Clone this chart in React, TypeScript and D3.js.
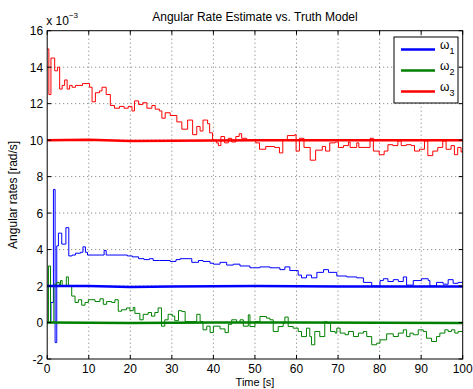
import { useMemo } from 'react';
import * as d3 from 'd3';

// time [s], rate [x 1e-3 rad/s]
type Pt = [number, number];

const xTicks = [0, 10, 20, 30, 40, 50, 60, 70, 80, 90, 100];
const yTicks = [-2, 0, 2, 4, 6, 8, 10, 12, 14, 16];
const seriesNames = ['ω1', 'ω2', 'ω3'];
const seriesColors = ['#0000ff', '#008000', '#ff0000'];

// thick lines (truth model)
const w1Truth: Pt[] = [[0, 2.0], [10, 2.0], [20, 1.95], [30, 1.97], [50, 2.0], [70, 1.98], [100, 1.98]];
const w2Truth: Pt[] = [[0, 0.0], [20, -0.03], [40, 0.0], [60, 0.0], [100, -0.02]];
const w3Truth: Pt[] = [[0, 10.0], [10, 10.02], [20, 9.95], [30, 9.97], [50, 10.0], [100, 10.0]];

// thin lines (estimates)
const w1Est: Pt[] = [
  [0, 0], [0.9, 1.1], [1.5, 7.3], [1.9, -1.1], [2.3, 4.2], [2.7, 4.9], [3.5, 4.3], [4.5, 5.2],
  [5.2, 3.65], [6.0, 3.7], [6.8, 3.8], [8.0, 3.85], [8.6, 4.15], [9.2, 3.85], [9.7, 3.7],
  [13.7, 3.95], [14.2, 3.7], [19.3, 3.65], [20.5, 3.6], [22.0, 3.5], [23.3, 3.45], [24.6, 3.5],
  [25.5, 3.4], [27.1, 3.4], [29.6, 3.35], [31.0, 3.45], [32.0, 3.5], [34.8, 3.3], [36.4, 3.4],
  [37.5, 3.35], [39.2, 3.25], [40.0, 3.2], [41.6, 3.3], [43.2, 3.15], [44.8, 3.2], [46.4, 3.1],
  [48.8, 3.0], [51.2, 3.05], [53.6, 3.0], [56.0, 2.9], [57.2, 3.05], [58.4, 2.85], [60.4, 2.6],
  [61.2, 2.45], [62.4, 2.6], [63.6, 2.45], [64.9, 2.75], [66.5, 2.9], [67.7, 2.75], [69.7, 2.55],
  [72.1, 2.5], [74.5, 2.45], [76.1, 2.2], [78.1, 2.0], [80.1, 2.3], [80.9, 2.4], [82.0, 2.25],
  [83.3, 2.35], [84.5, 2.25], [85.7, 2.5], [86.5, 2.05], [88.1, 2.3], [90.1, 2.4], [91.7, 2.3],
  [92.1, 2.0], [93.7, 2.2], [95.3, 2.1], [96.5, 2.35], [97.7, 2.15], [98.9, 2.2], [100, 2.2],
];

const w2Est: Pt[] = [
  [0, 0], [0.3, 3.1], [0.8, 0.0], [1.6, 2.1], [2.3, 2.2], [2.9, 2.0], [3.2, 2.3], [3.6, 2.0],
  [4.6, 2.5], [5.1, 2.0], [5.9, 1.45], [6.7, 1.1], [7.5, 1.25], [8.3, 0.95], [9.1, 1.1],
  [9.9, 1.25], [11.5, 1.15], [12.7, 1.3], [13.5, 1.0], [14.3, 1.15], [15.5, 1.1], [16.3, 1.25],
  [17.1, 0.62], [17.9, 0.7], [19.1, 0.8], [19.9, 0.65], [20.7, 0.83], [21.1, 0.5], [22.3, 0.15],
  [23.1, 0.45], [24.3, 0.55], [25.1, 0.35], [25.9, 0.55], [26.7, 0.8], [27.5, -0.2], [28.3, 0.15],
  [29.1, 0.45], [30.1, 0.35], [30.7, 0.1], [31.6, 0.65], [32.4, 0.6], [33.2, 0.05], [36.0, 0.45],
  [36.8, 0.05], [37.5, -0.4], [38.4, -0.2], [39.2, -0.55], [40.0, -0.2], [41.6, -0.35],
  [42.8, -0.55], [43.6, -0.1], [44.4, 0.15], [45.6, 0.0], [46.4, 0.15], [47.2, -0.2], [48.4, 0.42],
  [48.8, -0.22], [50.0, 0.05], [51.2, 0.33], [52.8, 0.24], [53.6, 0.15], [54.4, -0.49],
  [55.6, -0.22], [56.8, -0.04], [57.2, 0.3], [58.0, -0.22], [59.2, -0.31], [60.4, -0.49],
  [61.2, -0.77], [62.4, -0.31], [63.2, -0.77], [63.6, -1.22], [64.4, -0.49], [65.6, -0.77],
  [66.8, 0.05], [67.3, -0.04], [68.2, -0.49], [69.3, -0.58], [69.7, -0.31], [70.5, -0.58],
  [71.7, -0.67], [72.5, -0.49], [73.7, -0.77], [74.9, -0.58], [76.1, -0.49], [76.9, -0.77],
  [78.1, -1.22], [79.3, -1.13], [80.1, -0.95], [81.7, -0.62], [83.3, -0.77], [84.5, -0.58],
  [85.7, -0.4], [86.5, -0.77], [87.3, -0.58], [88.1, -0.67], [89.3, -0.4], [90.5, -0.49],
  [91.3, -0.86], [92.5, -1.04], [93.7, -0.77], [94.5, -0.58], [95.7, -0.4], [96.5, -0.49],
  [97.3, -0.4], [98.1, -0.58], [98.9, -0.49], [100, -0.49],
];

const w3Est: Pt[] = [
  [0, 15.0], [0.4, 12.5], [0.9, 14.5], [1.8, 13.8], [2.5, 14.0], [3.0, 12.8], [3.6, 13.0],
  [4.2, 13.3], [4.8, 12.8], [5.4, 13.0], [6.0, 12.9], [6.8, 13.0], [8.5, 13.1], [10.2, 12.9],
  [10.8, 12.1], [11.6, 12.6], [12.6, 12.7], [13.2, 12.9], [14.2, 12.5], [15.2, 11.9],
  [16.2, 11.75], [17.4, 11.85], [18.5, 11.75], [19.5, 11.85], [20.4, 11.6], [21.0, 12.15],
  [22.0, 11.95], [23.0, 12.05], [24.0, 11.75], [25.2, 11.9], [26.0, 11.7], [27.0, 11.6],
  [27.6, 11.2], [28.4, 11.5], [29.6, 11.35], [31.2, 11.0], [32.4, 10.6], [33.8, 11.1],
  [35.0, 10.3], [36.0, 10.75], [36.8, 10.5], [37.5, 11.1], [38.6, 10.9], [39.1, 10.4],
  [39.8, 10.0], [40.7, 9.85], [41.2, 9.7], [41.8, 10.2], [42.7, 9.85], [43.6, 10.1], [44.4, 9.9],
  [45.4, 10.2], [46.2, 10.35], [46.8, 10.1], [48.0, 10.0], [50.2, 9.85], [51.1, 9.5], [52.6, 9.65],
  [54.7, 9.6], [55.9, 9.3], [56.7, 10.0], [57.8, 10.25], [59.6, 10.3], [59.9, 9.4], [60.7, 10.1],
  [61.8, 9.6], [63.3, 8.9], [64.6, 9.45], [66.2, 9.65], [67.0, 9.4], [68.0, 9.85], [69.3, 9.9],
  [70.1, 9.6], [71.3, 9.7], [72.5, 9.9], [72.9, 9.6], [74.5, 9.85], [75.0, 9.6], [77.7, 10.1],
  [78.5, 9.4], [79.9, 9.2], [81.1, 9.4], [82.0, 9.75], [83.2, 9.7], [84.4, 9.95], [85.2, 9.7],
  [86.4, 9.75], [87.6, 9.7], [88.4, 9.4], [89.6, 9.5], [90.8, 9.95], [91.6, 9.15], [92.8, 9.4],
  [94.0, 9.6], [95.2, 9.95], [96.0, 9.5], [97.2, 9.7], [98.0, 9.2], [98.8, 9.6], [99.6, 9.35],
  [100, 9.35],
];

const W = 473;
const H = 389;
const FONT = '"Liberation Sans", Arial, Helvetica, sans-serif';

export default function App() {
  const m = { left: 47.2, right: 462.7, top: 30.7, bottom: 359 };

  const x = d3.scaleLinear().domain([0, 100]).range([m.left, m.right]);
  const y = d3.scaleLinear().domain([-2, 16]).range([m.bottom, m.top]);

  const stepLine = useMemo(
    () => d3.line<Pt>().x(d => x(d[0])).y(d => y(d[1])).curve(d3.curveStepAfter),
    []
  );
  const smoothLine = useMemo(
    () => d3.line<Pt>().x(d => x(d[0])).y(d => y(d[1])),
    []
  );

  const est = [w1Est, w2Est, w3Est];
  const truth = [w1Truth, w2Truth, w3Truth];

  const legX = 394, legY = 37, legW = 64, legH = 66;

  return (
    <svg
      width={W}
      height={H}
      style={{ position: 'absolute', left: 0, top: 0, background: '#fff' }}
      fontFamily={FONT}
    >
      <rect x={0} y={0} width={W} height={H} fill="#fff" />
      <rect x={m.left} y={m.top} width={m.right - m.left} height={m.bottom - m.top} fill="#fff" />

      {/* grid */}
      <g stroke="#555" strokeWidth={0.8} strokeDasharray="1,3">
        {xTicks.slice(1, -1).map(t => (
          <line key={'gx' + t} x1={x(t)} x2={x(t)} y1={m.top} y2={m.bottom} />
        ))}
        {yTicks.slice(1, -1).map(t => (
          <line key={'gy' + t} x1={m.left} x2={m.right} y1={y(t)} y2={y(t)} />
        ))}
      </g>

      {/* estimate lines (thin) */}
      {est.map((d, i) => (
        <path key={'e' + i} d={stepLine(d) || ''} fill="none" stroke={seriesColors[i]} strokeWidth={1} />
      ))}
      {/* truth lines (thick) */}
      {truth.map((d, i) => (
        <path key={'t' + i} d={smoothLine(d) || ''} fill="none" stroke={seriesColors[i]} strokeWidth={2.5} />
      ))}

      {/* frame and ticks */}
      <g stroke="#000" strokeWidth={1} fill="none">
        <rect x={m.left} y={m.top} width={m.right - m.left} height={m.bottom - m.top} />
        {xTicks.map(t => (
          <g key={'tx' + t}>
            <line x1={x(t)} x2={x(t)} y1={m.bottom} y2={m.bottom - 4} />
            <line x1={x(t)} x2={x(t)} y1={m.top} y2={m.top + 4} />
          </g>
        ))}
        {yTicks.map(t => (
          <g key={'ty' + t}>
            <line x1={m.left} x2={m.left + 4} y1={y(t)} y2={y(t)} />
            <line x1={m.right} x2={m.right - 4} y1={y(t)} y2={y(t)} />
          </g>
        ))}
      </g>

      {/* tick labels */}
      <g fontSize={12} fill="#000">
        {xTicks.map(t => (
          <text key={'lx' + t} x={x(t)} y={m.bottom + 13.5} textAnchor="middle">{t}</text>
        ))}
        {yTicks.map(t => (
          <text key={'ly' + t} x={m.left - 4} y={y(t) + 4.5} textAnchor="end">{t}</text>
        ))}
      </g>

      {/* exponent */}
      <text x={m.left - 1} y={25} fontSize={12} fill="#000">
        x 10<tspan dy={-7} fontSize={8}>−3</tspan>
      </text>

      {/* title and labels */}
      <text x={(m.left + m.right) / 2} y={21} fontSize={12} textAnchor="middle" fill="#000">
        Angular Rate Estimate vs. Truth Model
      </text>
      <text x={(m.left + m.right) / 2} y={386} fontSize={11} textAnchor="middle" fill="#000">
        Time [s]
      </text>
      <text
        transform={`translate(17,${(m.top + m.bottom) / 2}) rotate(-90)`}
        fontSize={12}
        textAnchor="middle"
        fill="#000"
      >
        Angular rates [rad/s]
      </text>

      {/* legend */}
      <g>
        <rect x={legX} y={legY} width={legW} height={legH} fill="#fff" stroke="#000" strokeWidth={1} />
        {seriesNames.map((s, i) => (
          <g key={s} transform={`translate(${legX + 7},${legY + 12.5 + i * 21})`}>
            <line x1={0} x2={34} y1={0} y2={0} stroke={seriesColors[i]} strokeWidth={2.5} />
            <text x={39} y={-1} fontSize={12} fill="#000">
              {s[0]}
              <tspan dy={5} fontSize={9}>{s.slice(1)}</tspan>
            </text>
          </g>
        ))}
      </g>
    </svg>
  );
}
